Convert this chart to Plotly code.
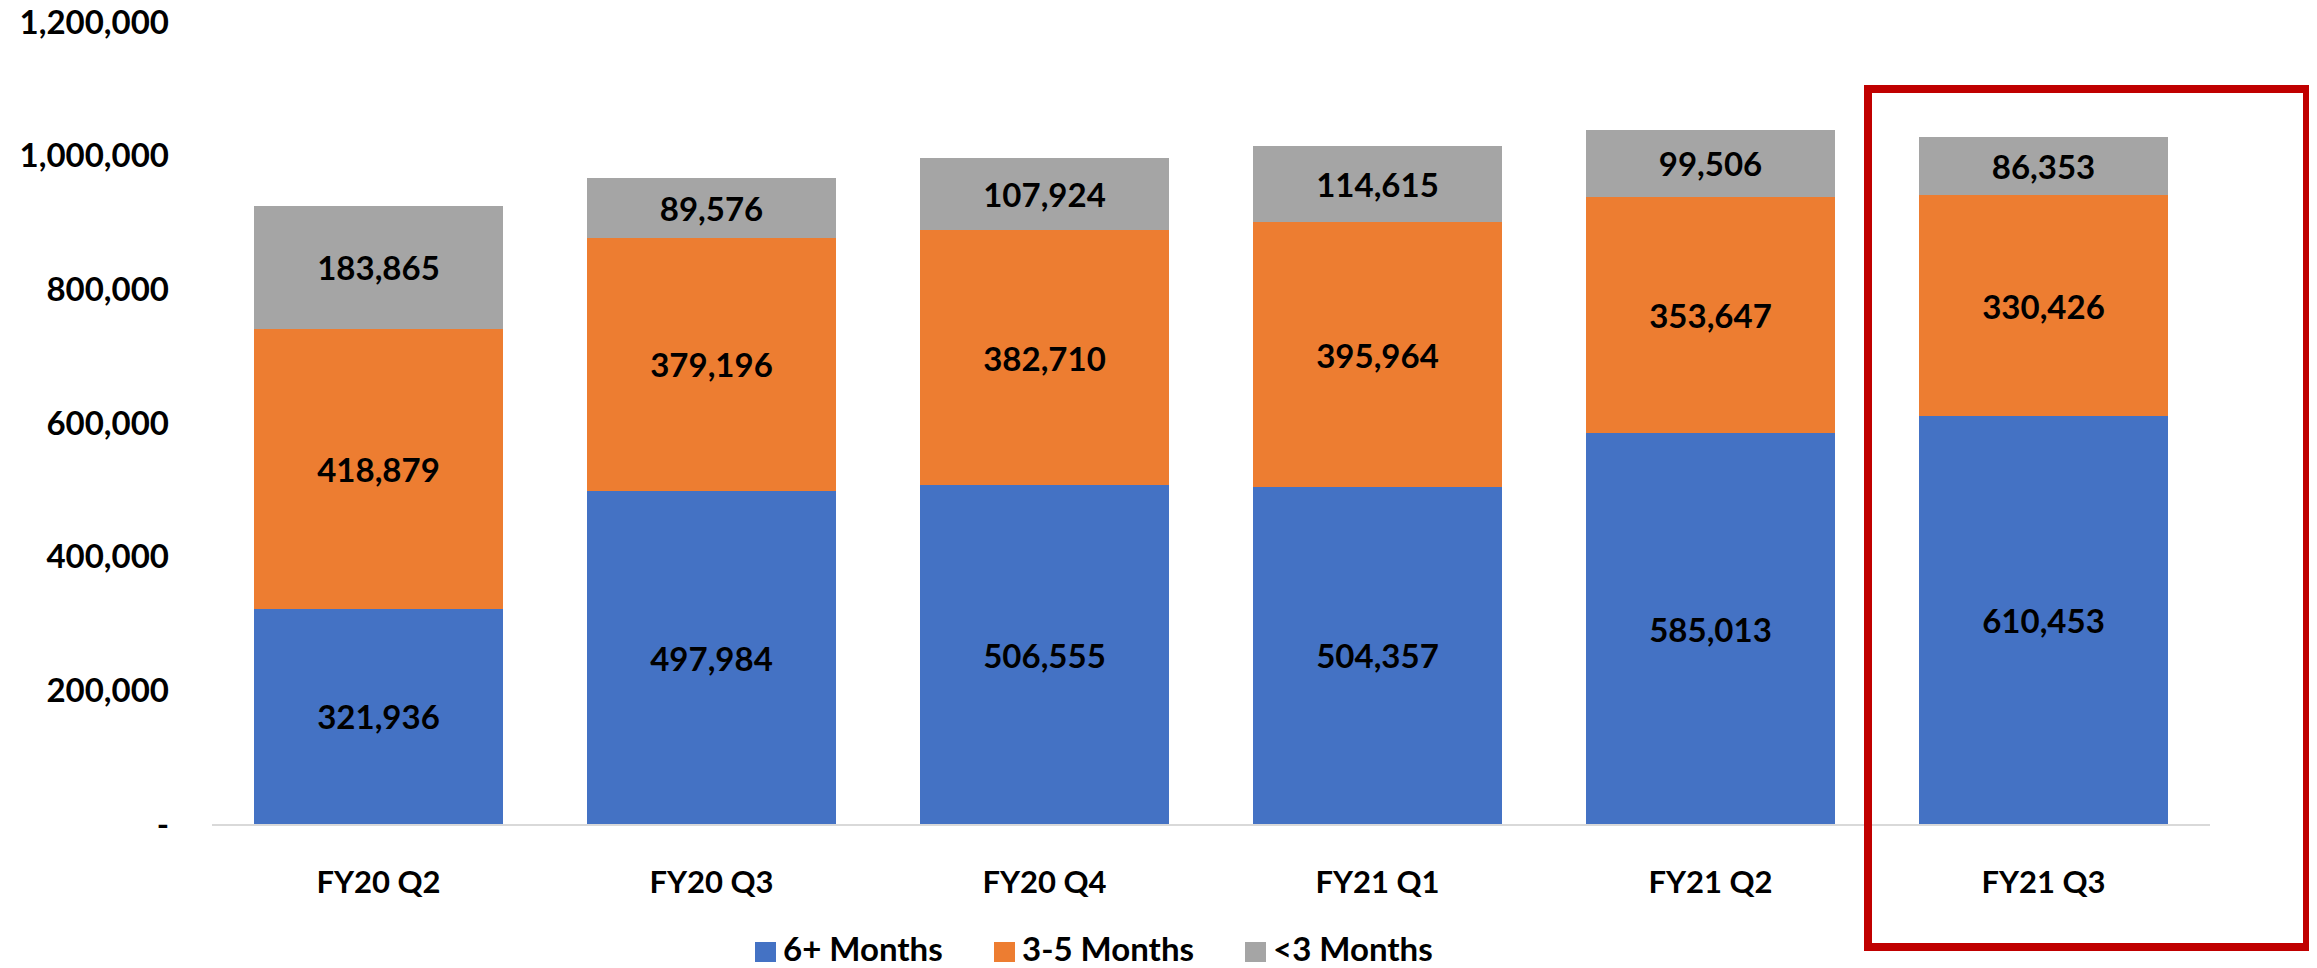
import plotly.graph_objects as go

categories = ["FY20 Q2", "FY20 Q3", "FY20 Q4", "FY21 Q1", "FY21 Q2", "FY21 Q3"]
months_6_plus = [321936, 497984, 506555, 504357, 585013, 610453]
months_3_5 = [418879, 379196, 382710, 395964, 353647, 330426]
months_lt_3 = [183865, 89576, 107924, 114615, 99506, 86353]
series_names = ["6+ Months", "3-5 Months", "<3 Months"]
series_colors = ["#4472C4", "#ED7D31", "#A5A5A5"]
y_tick_vals = [0, 200000, 400000, 600000, 800000, 1000000, 1200000]
y_tick_text = ["-", "200,000", "400,000", "600,000", "800,000", "1,000,000", "1,200,000"]

FONT = "Lato"

fig = go.Figure()
for name, vals, col in zip(series_names, [months_6_plus, months_3_5, months_lt_3], series_colors):
    fig.add_trace(go.Bar(
        x=categories, y=vals, name=name,
        marker=dict(color=col, line=dict(width=0)),
        text=[f"{v:,}" for v in vals],
        textposition="inside", insidetextanchor="middle",
        textangle=0, constraintext="none",
        textfont=dict(family=FONT, size=33, color="black", weight="bold"),
        hoverinfo="skip", showlegend=False,
    ))

# page has an 8px body margin; figure sized so it ends at the window edge
OFF = 8
W, H = 2317 - OFF, 968 - OFF
L, R, T, B = 212 - OFF, 107, 22 - OFF, 144
pw = W - L - R
ph = H - T - B

def px_x(p):
    return (p - OFF - L) / pw

def px_y(p):
    return (H - B - (p - OFF)) / ph

# highlight box around the last quarter
fig.add_shape(type="rect", xref="paper", yref="paper",
              x0=px_x(1868), x1=px_x(2307), y0=px_y(947), y1=px_y(89),
              line=dict(color="#C00000", width=8), fillcolor="rgba(0,0,0,0)")

# legend drawn as swatches + labels
legend_swatch_left = [755, 994, 1245]
for name, col, sx in zip(series_names, series_colors, legend_swatch_left):
    fig.add_shape(type="rect", xref="paper", yref="paper",
                  x0=px_x(sx), x1=px_x(sx + 21), y0=px_y(962), y1=px_y(942),
                  line=dict(width=0), fillcolor=col)
    fig.add_annotation(xref="paper", yref="paper", x=px_x(sx + 27), y=px_y(948),
                       xanchor="left", yanchor="middle", showarrow=False,
                       text=name, borderpad=0,
                       font=dict(family=FONT, size=33, color="black", weight="bold"))

fig.update_layout(
    width=W, height=H,
    barmode="stack", bargap=0.25,
    plot_bgcolor="white", paper_bgcolor="white",
    margin=dict(l=L, r=R, t=T, b=B, pad=0, autoexpand=False),
    font=dict(family=FONT, color="black"),
    showlegend=False,
    xaxis=dict(showline=True, linecolor="#D9D9D9", linewidth=2, showgrid=False,
               ticks="", ticklabelstandoff=30, automargin=False,
               tickfont=dict(family=FONT, size=31, color="black", weight="bold")),
    yaxis=dict(range=[0, 1200000], tickvals=y_tick_vals, ticktext=y_tick_text,
               showgrid=False, zeroline=False, showline=False, ticks="",
               ticklabelstandoff=42, automargin=False, ticklabeloverflow="allow",
               tickfont=dict(family=FONT, size=33, color="black", weight="bold")),
)

fig.write_html("out.html")
